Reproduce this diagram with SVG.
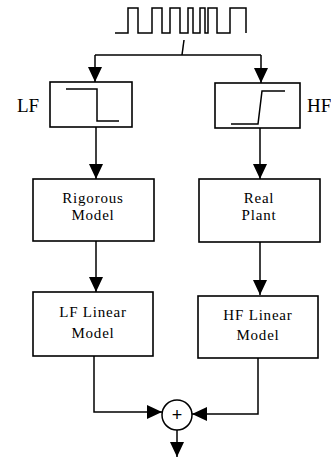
<svg xmlns="http://www.w3.org/2000/svg" width="331" height="457" viewBox="0 0 331 457">
<style>
.box{fill:#fff;stroke:#000;stroke-width:1.6}
.ln{fill:none;stroke:#000;stroke-width:1.5}
.t{font-family:"Liberation Serif","Times New Roman",serif;font-size:15px;letter-spacing:0.8px;text-anchor:middle;fill:#000}
.lbl{font-family:"Liberation Serif","Times New Roman",serif;font-size:19px;fill:#000}
</style>
<defs>
<marker id="ah" markerUnits="userSpaceOnUse" markerWidth="16" markerHeight="14" refX="15" refY="7" orient="auto">
<path d="M0,0 L15,7 L0,14 z" fill="#000"/>
</marker>
</defs>
<g id="signal">
<path class="ln" d="M115,33 H128 V8 H138 V33 H152 V8 H162 V33 H170 V8 H180 V33 H188 V8 H193 V33 H200 V8 H205 V33 H208 V8 H217 V33 H230 V8 H246 V33"/>
</g>
<g id="lf-filter">
<rect class="box" x="50" y="82" width="82" height="45"/>
<path class="ln" d="M66,89 H97 V121 H119"/>
</g>
<text id="lf-label" class="lbl" x="17" y="112">LF</text>
<g id="hf-filter">
<rect class="box" x="215" y="83" width="85" height="45"/>
<path class="ln" d="M231,124 H258 L262,91 H285"/>
</g>
<text id="hf-label" class="lbl" x="307" y="112">HF</text>
<g id="rigorous-model">
<rect class="box" x="33" y="179" width="121" height="62"/>
<text class="t" x="93" y="203">Rigorous</text>
<text class="t" x="93" y="220">Model</text>
</g>
<g id="real-plant">
<rect class="box" x="199" y="179" width="121" height="63"/>
<text class="t" x="259" y="203">Real</text>
<text class="t" x="259" y="220">Plant</text>
</g>
<g id="lf-linear-model">
<rect class="box" x="33" y="292" width="120" height="64"/>
<text class="t" x="93" y="317">LF Linear</text>
<text class="t" x="93" y="338">Model</text>
</g>
<g id="hf-linear-model">
<rect class="box" x="198" y="296" width="120" height="62"/>
<text class="t" x="258" y="320">HF Linear</text>
<text class="t" x="258" y="340">Model</text>
</g>
<g id="sum">
<circle cx="177" cy="415" r="15" fill="#fff" stroke="#000" stroke-width="1.5"/>
<text x="177" y="421" font-family="Liberation Sans, Arial, sans-serif" font-size="18" text-anchor="middle">+</text>
</g>
<g id="connectors">
<path class="ln" d="M184,40 L182,55"/>
<path class="ln" d="M95,55 H261"/>
<path class="ln" d="M95,55 V82" marker-end="url(#ah)"/>
<path class="ln" d="M261,55 V83" marker-end="url(#ah)"/>
<path class="ln" d="M96,127 V179" marker-end="url(#ah)"/>
<path class="ln" d="M260,128 V179" marker-end="url(#ah)"/>
<path class="ln" d="M96,241 V292" marker-end="url(#ah)"/>
<path class="ln" d="M260,242 V295" marker-end="url(#ah)"/>
<path class="ln" d="M94,356 V412 H162" marker-end="url(#ah)"/>
<path class="ln" d="M258,358 V414 H192" marker-end="url(#ah)"/>
<path class="ln" d="M177,430 V457" marker-end="url(#ah)"/>
</g>
</svg>
